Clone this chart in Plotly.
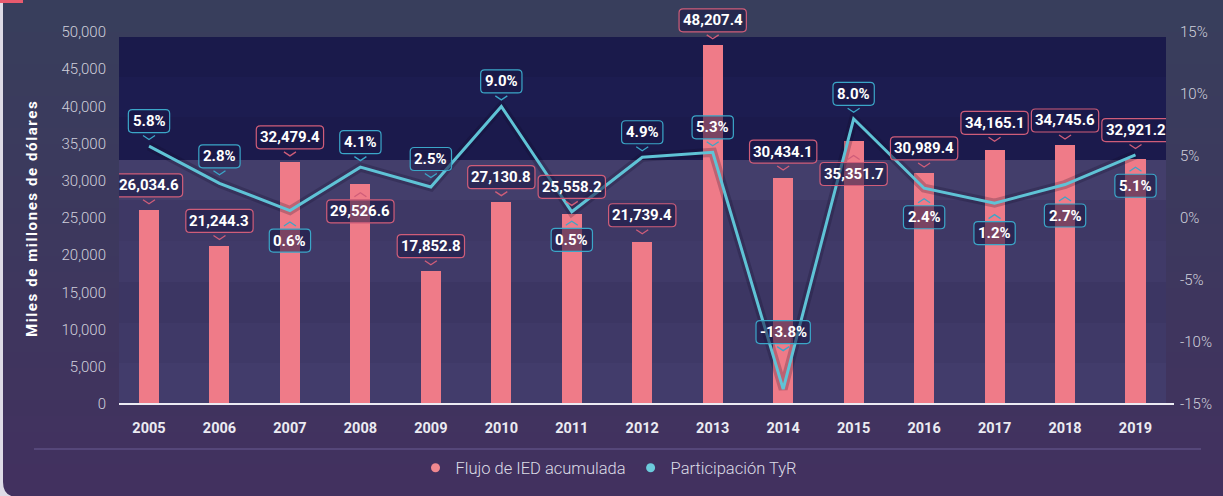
import plotly.graph_objects as go

# ---------------- data ----------------
years = [2005, 2006, 2007, 2008, 2009, 2010, 2011, 2012, 2013, 2014, 2015, 2016, 2017, 2018, 2019]
ied_values = [26034.6, 21244.3, 32479.4, 29526.6, 17852.8, 27130.8, 25558.2, 21739.4,
              48207.4, 30434.1, 35351.7, 30989.4, 34165.1, 34745.6, 32921.2]
tyr_values = [5.8, 2.8, 0.6, 4.1, 2.5, 9.0, 0.5, 4.9, 5.3, -13.8, 8.0, 2.4, 1.2, 2.7, 5.1]
left_ticks = [0, 5000, 10000, 15000, 20000, 25000, 30000, 35000, 40000, 45000, 50000]
right_ticks = [-15, -10, -5, 0, 5, 10, 15]
series_names = ["Flujo de IED acumulada", "Participación TyR"]
y_title = "Miles de millones de dólares"

# ---------------- styles ----------------
# label box centre offset (px, positive = up) from each mark
ied_label_offset = [25, 25, 25, -27, 25, 25, 27, 27, 25, 26, -33, 25, 27, 25, 29]
tyr_label_offset = [25, 27, -30, 25, 28, 25, -28, 25, 25, 57, 25, -29, -30, -31, -31]

W, H = 1223, 496
PL, PR, PT, PB = 119, 1166, 5, 404   # plot area in px


def pxx(px):
    return (px - PL) / (PR - PL)


def pxy(py):
    return (PB - py) / (PB - PT)


BAR_COLOR = "#ef7b88"
LINE_COLOR = "#5fc3d6"
PINK_BORDER = "#cf5d79"
CYAN_BORDER = "#3ba6c8"
BOX_FILL = "rgba(26,24,70,0.55)"
FONT = "Roboto"

CHAR_W = {",": 3.4, ".": 4.2, "%": 11.2, "-": 4.6}


def text_width(s, size=15):
    w = 0
    for ch in s:
        w += CHAR_W.get(ch, 8.45) * size / 15
    return w


def box_path(w, c, h=23, r=4):
    x0, x1 = -w / 2, w / 2
    y0, y1 = c - h / 2, c + h / 2
    return (f"M {x0 + r},{y1} L {x1 - r},{y1} Q {x1},{y1} {x1},{y1 - r} "
            f"L {x1},{y0 + r} Q {x1},{y0} {x1 - r},{y0} L {x0 + r},{y0} "
            f"Q {x0},{y0} {x0},{y0 + r} L {x0},{y1 - r} Q {x0},{y1} {x0 + r},{y1} Z")


def chevron_path(c, h=23):
    if c > 0:
        b = c - h / 2
        return f"M -6,{b - 3} L 0,{b - 7} L 6,{b - 3}"
    t = c + h / 2
    return f"M -6,{t + 3} L 0,{t + 7} L 6,{t + 3}"


def mix(c1, c2, t):
    a = [int(c1[i:i + 2], 16) for i in (1, 3, 5)]
    b = [int(c2[i:i + 2], 16) for i in (1, 3, 5)]
    return "#" + "".join(f"{round(a[k] + (b[k] - a[k]) * t):02x}" for k in range(3))


shapes = []
# card background gradient
N = 31
for i in range(N):
    y0 = H * i / N
    y1 = H * (i + 1) / N + 0.6
    shapes.append(dict(type="rect", xref="paper", yref="paper", x0=pxx(3), x1=pxx(W + 5),
                       y0=pxy(y0), y1=pxy(y1), line=dict(width=0),
                       fillcolor=mix("#383e5c", "#42315f", i / (N - 1)), layer="below"))
# corner patch
shapes.append(dict(type="path", xref="paper", yref="paper",
                   path=f"M {pxx(3)},{pxy(482)} Q {pxx(3)},{pxy(497)} {pxx(18)},{pxy(497)} L {pxx(2)},{pxy(497)} Z",
                   fillcolor="#dedbe6", line=dict(width=0), layer="below"))
# top-left accent
shapes.append(dict(type="rect", xref="paper", yref="paper", x0=pxx(0), x1=pxx(23),
                   y0=pxy(0), y1=pxy(3), fillcolor="#e85a6e", line=dict(width=0), layer="below"))
# plot bands
bands = [(37, 77, "#1a1a4b"), (77, 117, "#1c1c50"), (117, 160, "#1b1a4c"),
         (160, 200, "#433e6b"), (200, 241, "#3e3865"), (241, 282, "#403a68"),
         (282, 323, "#3c3663"), (323, 363, "#3f3967"), (363, 404, "#423c6b")]
for a, b, col in bands:
    shapes.append(dict(type="rect", xref="paper", yref="paper", x0=0, x1=1,
                       y0=pxy(b), y1=pxy(a), fillcolor=col, line=dict(width=0), layer="below"))
# axis baseline
shapes.append(dict(type="line", xref="paper", yref="paper", x0=0, x1=pxx(1174),
                   y0=pxy(404), y1=pxy(404), line=dict(color="#ecebf3", width=2), layer="above"))
# separator above legend
shapes.append(dict(type="line", xref="paper", yref="paper", x0=pxx(34), x1=pxx(1201),
                   y0=pxy(449), y1=pxy(449), line=dict(color="#6b5c95", width=1), layer="below"))

annotations = []


def add_label(x, y, yref, text, off, border):
    w = text_width(text) + 9
    shapes.append(dict(type="path", xref="x", yref=yref, xsizemode="pixel", ysizemode="pixel",
                       xanchor=x, yanchor=y, path=box_path(w, off),
                       fillcolor=BOX_FILL, line=dict(color=border, width=1.2), layer="above"))
    shapes.append(dict(type="path", xref="x", yref=yref, xsizemode="pixel", ysizemode="pixel",
                       xanchor=x, yanchor=y, path=chevron_path(off),
                       line=dict(color=border, width=1.3), layer="above"))
    annotations.append(dict(x=x, y=y, xref="x", yref=yref, text=text, showarrow=False,
                            yshift=off, xanchor="center", yanchor="middle",
                            font=dict(family=FONT, size=15, color="#ffffff", weight=700)))


for x, v, off in zip(years, ied_values, ied_label_offset):
    add_label(x, v, "y", f"{v:,.1f}", off, PINK_BORDER)
for x, v, off in zip(years, tyr_values, tyr_label_offset):
    add_label(x, v, "y2", f"{v:.1f}%", off, CYAN_BORDER)

annotations.append(dict(x=pxx(32), y=pxy(219), xref="paper", yref="paper",
                        text=f'<span style="letter-spacing:1.6px">{y_title}</span>',
                        textangle=-90, showarrow=False, xanchor="center", yanchor="middle",
                        font=dict(family=FONT, size=15, color="#ffffff", weight=700)))

fig = go.Figure()
fig.add_trace(go.Bar(x=years, y=ied_values, marker=dict(color=BAR_COLOR, line=dict(width=0)),
                     width=0.284, showlegend=False, yaxis="y", hoverinfo="skip"))
fig.add_trace(go.Scatter(x=years, y=tyr_values, mode="lines", yaxis="y2", showlegend=False,
                         line=dict(color="rgba(12,8,38,0.22)", width=9),
                         hoverinfo="skip"))
fig.add_trace(go.Scatter(x=years, y=tyr_values, mode="lines", yaxis="y2", showlegend=False,
                         line=dict(color=LINE_COLOR, width=3)))
# legend entries
fig.add_trace(go.Scatter(x=[None], y=[None], mode="markers", name=series_names[0],
                         marker=dict(color="#f0888f", size=9, symbol="circle")))
fig.add_trace(go.Scatter(x=[None], y=[None], mode="markers", name=series_names[1],
                         marker=dict(color="#6ccbdc", size=9, symbol="circle")))

fig.update_layout(
    width=W, height=H,
    margin=dict(l=PL, r=W - PR, t=PT, b=H - PB, autoexpand=False),
    paper_bgcolor="#dedbe6", plot_bgcolor="rgba(0,0,0,0)",
    bargap=0,
    xaxis=dict(range=[2005 - 30 / 70.46, 2019 + 30.5 / 70.46], tickvals=years,
               showgrid=False, zeroline=False, showline=False, ticks="",
               ticklabelstandoff=13,
               tickfont=dict(family=FONT, size=14.5, color="#ebebf2", weight=700)),
    yaxis=dict(range=[0, 50000 * (PB - PT) / 372], tickvals=left_ticks, tickformat=",",
               showgrid=False, zeroline=False, showline=False, ticks="",
               ticklabelstandoff=12,
               tickfont=dict(family=FONT, size=15, color="#cfcfdb", weight=300)),
    yaxis2=dict(range=[-15, -15 + 30 * (PB - PT) / 372], tickvals=right_ticks,
                ticktext=[f"{t}%" for t in right_ticks], overlaying="y", side="right",
                showgrid=False, zeroline=False, showline=False, ticks="",
                ticklabelstandoff=13,
                tickfont=dict(family=FONT, size=15, color="#cfcfdb", weight=300)),
    legend=dict(orientation="h", x=pxx(609), y=pxy(468), xanchor="center", yanchor="middle",
                font=dict(family=FONT, size=16.5, color="#dcdce6", weight=300),
                bgcolor="rgba(0,0,0,0)", itemwidth=30, tracegroupgap=0),
    shapes=shapes,
    annotations=annotations,
    showlegend=True,
)

fig.write_html("out.html", config={"displayModeBar": False},
               post_script="document.body.style.margin='0px';document.body.style.overflow='hidden';")
